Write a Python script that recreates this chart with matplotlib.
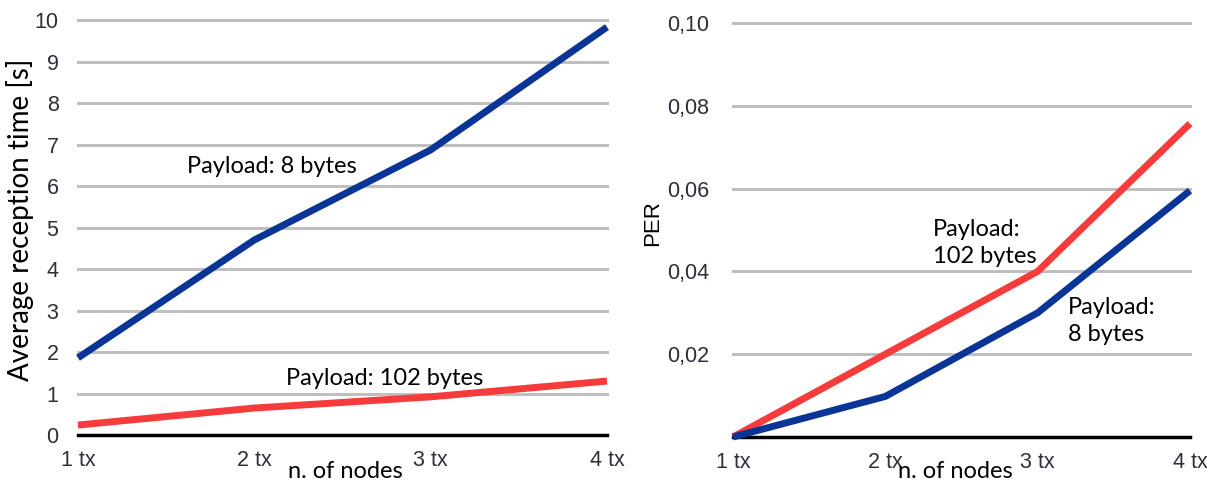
import matplotlib
matplotlib.use("Agg")
import matplotlib.pyplot as plt

nodes = [1, 2, 3, 4]
node_labels = ["1 tx", "2 tx", "3 tx", "4 tx"]

# left: average reception time [s]
time_8 = [1.86, 4.7, 6.87, 9.83]
time_102 = [0.24, 0.65, 0.92, 1.3]
time_ticks = [0, 1, 2, 3, 4, 5, 6, 7, 8, 9, 10]
time_tick_labels = [str(t) for t in time_ticks]

# right: PER
per_8 = [0.0, 0.0098, 0.030, 0.0595]
per_102 = [0.0, 0.020, 0.040, 0.0757]
per_ticks = [0, 0.02, 0.04, 0.06, 0.08, 0.10]
per_tick_labels = ["", "0,02", "0,04", "0,06", "0,08", "0,10"]

blue = "#0a3596"
red = "#f53b3b"
grid_col = "#bfbfbf"
tick_col = "#2e2e3a"
ann_font = "Lato"
tick_font = "Liberation Sans"

fig = plt.figure(figsize=(12.07, 4.84), dpi=100)
ax1 = fig.add_axes([0.0646, 0.1012, 0.4383, 0.8574])
ax2 = fig.add_axes([0.6073, 0.0971, 0.3786, 0.8554])


def style(ax, ticks, labels, pad_y):
    ax.set_xlim(1, 4)
    ax.set_ylim(0, ticks[-1])
    ax.set_yticks(ticks, labels)
    ax.set_xticks(nodes, node_labels)
    for s in ax.spines.values():
        s.set_visible(False)
    for t in ticks[1:]:
        ax.axhline(t, color=grid_col, lw=2.2, zorder=1, clip_on=False)
    ax.axhline(0, color="black", lw=2.5, zorder=1, clip_on=False)
    ax.tick_params(length=0, labelsize=15.5, labelcolor=tick_col)
    ax.tick_params(axis="y", pad=pad_y)
    ax.tick_params(axis="x", pad=11)
    for lab in ax.get_xticklabels() + ax.get_yticklabels():
        lab.set_fontfamily(tick_font)


style(ax1, time_ticks, time_tick_labels, 14)
ax1.plot(nodes, time_8, color=blue, lw=5, solid_capstyle="butt", zorder=3, clip_on=False)
ax1.plot(nodes, time_102, color=red, lw=5, solid_capstyle="butt", zorder=3, clip_on=False)
ax1.text(1.62, 6.46, "Payload: 8 bytes", fontsize=17, family=ann_font, va="center")
ax1.text(2.18, 1.37, "Payload: 102 bytes", fontsize=17, family=ann_font, va="center")
ax1.set_ylabel("Average reception time [s]", fontsize=20, family=ann_font)
ax1.yaxis.set_label_coords(-0.083, 0.518)
ax1.set_xlabel("n. of nodes", fontsize=17, family=ann_font)
ax1.xaxis.set_label_coords(0.505, -0.062)

style(ax2, per_ticks, per_tick_labels, 17)
ax2.plot(nodes, per_102, color=red, lw=5, solid_capstyle="butt", zorder=3, clip_on=False)
ax2.plot(nodes, per_8, color=blue, lw=5, solid_capstyle="butt", zorder=3, clip_on=False)
ax2.text(2.31, 0.0469, "Payload:\n102 bytes", fontsize=17, family=ann_font, va="center",
         linespacing=1.36)
ax2.text(3.2, 0.0280, "Payload:\n8 bytes", fontsize=17, family=ann_font, va="center",
         linespacing=1.36)
ax2.set_ylabel("PER", fontsize=16, family=tick_font)
ax2.yaxis.set_label_coords(-0.153, 0.517)
ax2.set_xlabel("n. of nodes", fontsize=17, family=ann_font)
ax2.xaxis.set_label_coords(0.486, -0.058)

fig.savefig("out.png", dpi=100)
